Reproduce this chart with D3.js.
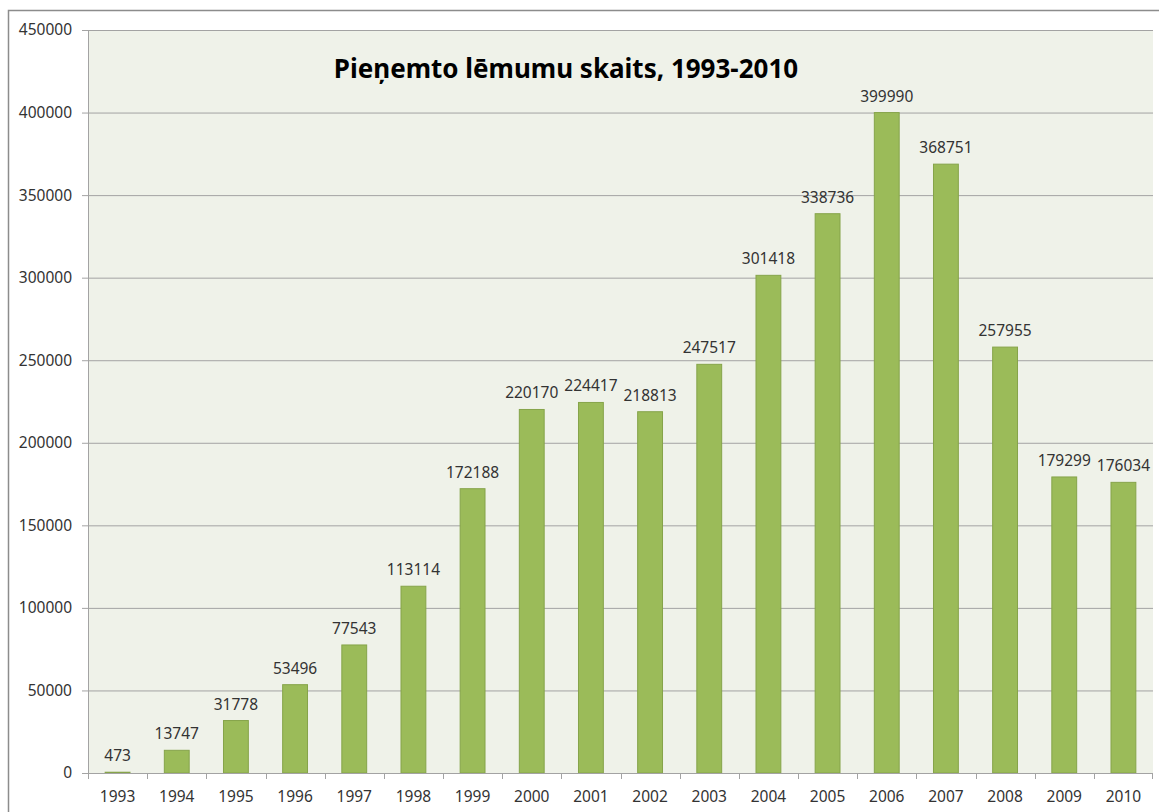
<!DOCTYPE html>
<html>
<head>
<meta charset="utf-8">
<script src="https://cdn.jsdelivr.net/npm/d3@7"></script>
<style>
  body { margin: 0; background: #fff; }
  text { font-family: "Noto Sans", sans-serif; }
</style>
</head>
<body>
<svg id="chart" width="1159" height="812"></svg>
<script>
const years = ["1993","1994","1995","1996","1997","1998","1999","2000","2001","2002",
               "2003","2004","2005","2006","2007","2008","2009","2010"];
const decisions = [473, 13747, 31778, 53496, 77543, 113114, 172188, 220170, 224417, 218813,
                   247517, 301418, 338736, 399990, 368751, 257955, 179299, 176034];
const yTicks = [0, 50000, 100000, 150000, 200000, 250000, 300000, 350000, 400000, 450000];
const title = "Pieņemto lēmumu skaits, 1993-2010";

const svg = d3.select("#chart");
const margin = {top: 30, right: 6, bottom: 39, left: 88};
const W = 1159, H = 812;

// outer chart frame (right/bottom edges fall outside the picture)
svg.append("rect")
  .attr("x", 8.5).attr("y", 10.5)
  .attr("width", 1200).attr("height", 900)
  .attr("fill", "#fff")
  .attr("stroke", "#8c8c8c")
  .attr("stroke-width", 1.5);

const x = d3.scaleBand()
  .domain(years)
  .range([margin.left, W - margin.right]);

const y = d3.scaleLinear()
  .domain([0, 450000])
  .range([H - margin.bottom, margin.top]);

// plot area
svg.append("rect")
  .attr("x", margin.left).attr("y", margin.top)
  .attr("width", W - margin.right - margin.left)
  .attr("height", H - margin.bottom - margin.top)
  .attr("fill", "#eff2e9");

// gridlines + y axis
const yAxis = svg.append("g")
  .attr("transform", `translate(${margin.left},0)`)
  .call(d3.axisLeft(y).tickValues(yTicks).tickFormat(d3.format("d"))
    .tickSize(-(W - margin.right - margin.left)).tickPadding(16));
yAxis.select(".domain").remove();
yAxis.selectAll(".tick line")
  .attr("x1", -6)
  .attr("stroke", "#a3a3a3");
yAxis.selectAll(".tick text")
  .attr("fill", "#333")
  .style("font-size", "15.5px");

svg.append("line")
  .attr("x1", margin.left + 0.5).attr("x2", margin.left + 0.5)
  .attr("y1", margin.top).attr("y2", H - margin.bottom)
  .attr("stroke", "#a3a3a3");

// bars
const barW = x.bandwidth() * 0.42;
svg.append("g").selectAll("rect")
  .data(decisions)
  .join("rect")
  .attr("x", (d, i) => x(years[i]) + (x.bandwidth() - barW) / 2)
  .attr("y", d => y(d))
  .attr("width", barW)
  .attr("height", d => y(0) - y(d))
  .attr("fill", "#9bbb59")
  .attr("stroke", "#86a44a")
  .attr("stroke-width", 1);

// value labels
svg.append("g").selectAll("text")
  .data(decisions)
  .join("text")
  .attr("x", (d, i) => x(years[i]) + x.bandwidth() / 2)
  .attr("y", d => y(d) - 11)
  .attr("text-anchor", "middle")
  .attr("fill", "#333")
  .style("font-size", "15.5px")
  .text(d => d);

// x axis
svg.append("line")
  .attr("x1", margin.left).attr("x2", W - margin.right)
  .attr("y1", y(0) + 0.5).attr("y2", y(0) + 0.5)
  .attr("stroke", "#a3a3a3");

svg.append("g").selectAll("line")
  .data(years.concat(["end"]))
  .join("line")
  .attr("x1", (d, i) => i < years.length ? Math.round(x(d)) + 0.5 : W - margin.right - 0.5)
  .attr("x2", (d, i) => i < years.length ? Math.round(x(d)) + 0.5 : W - margin.right - 0.5)
  .attr("y1", y(0))
  .attr("y2", y(0) + 6)
  .attr("stroke", "#a3a3a3");

svg.append("g").selectAll("text")
  .data(years)
  .join("text")
  .attr("x", d => x(d) + x.bandwidth() / 2)
  .attr("y", y(0) + 29)
  .attr("text-anchor", "middle")
  .attr("fill", "#333")
  .style("font-size", "15.5px")
  .text(d => d);

// title
svg.append("text")
  .attr("x", 566)
  .attr("y", 78)
  .attr("text-anchor", "middle")
  .attr("fill", "#000")
  .style("font-size", "26px")
  .style("font-weight", "bold")
  .text(title);
</script>
</body>
</html>
